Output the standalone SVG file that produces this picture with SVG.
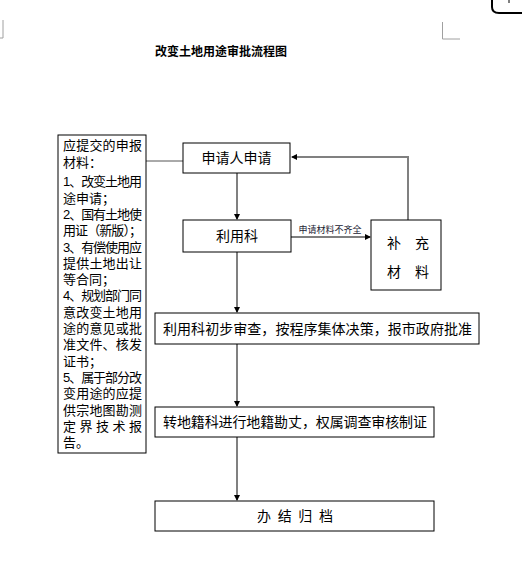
<svg xmlns="http://www.w3.org/2000/svg" width="522" height="585" viewBox="0 0 522 585">
<style>
.box{fill:#fff;stroke:#000;stroke-width:1}
.t{font-family:"Noto Sans CJK SC","Noto Sans",sans-serif;font-size:14px;fill:#000}
.s{font-family:"Liberation Sans","Noto Sans CJK SC",sans-serif;font-size:13px;fill:#000}
.c{stroke:#808080;stroke-width:2;fill:none}
.mark{stroke:#a0a0a0;stroke-width:1;fill:none}
</style>
<defs>
<marker id="ah" markerWidth="6" markerHeight="6" refX="5" refY="3" orient="auto" markerUnits="userSpaceOnUse">
<path d="M0,0 L6,3 L0,6 Z" fill="#000"/>
</marker>
</defs>
<rect width="522" height="585" fill="#fff"/>
<path d="M492,0 L492,7 Q492,13 499,13 L522,13" fill="none" stroke="#000" stroke-width="2"/>
<line x1="509" y1="0" x2="509" y2="3" stroke="#000" stroke-width="1"/>
<path class="mark" d="M3,20 L3,38 L0,38"/>
<path class="mark" d="M442.5,22 L442.5,39 L460,39"/>
<text x="221" y="56" text-anchor="middle" font-family="'Noto Sans CJK SC',sans-serif" font-size="12" font-weight="bold">改变土地用途审批流程图</text>
<g id="connectors">
<line x1="146" y1="161" x2="183" y2="161" stroke="#555" stroke-width="1"/>
<line class="c" x1="237" y1="173" x2="237" y2="219" marker-end="url(#ah)"/>
<line class="c" x1="291" y1="237" x2="370" y2="237" marker-end="url(#ah)" style="stroke:#555;stroke-width:1.5"/>
<text x="330" y="233" text-anchor="middle" font-family="'Noto Sans CJK SC',sans-serif" font-size="9" fill="#223">申请材料不齐全</text>
<polyline class="c" points="408,220 408,157 292,157" marker-end="url(#ah)"/>
<line class="c" x1="237" y1="252" x2="237" y2="312" marker-end="url(#ah)"/>
<line class="c" x1="237" y1="344" x2="237" y2="406" marker-end="url(#ah)"/>
<line class="c" x1="237" y1="437" x2="237" y2="500" marker-end="url(#ah)"/>
</g>
<g id="materials">
<rect class="box" x="58" y="135" width="88" height="318"/>
<text class="s">
<tspan x="63" y="149.5" textLength="79" lengthAdjust="spacing">应提交的申报</tspan>
<tspan x="63" y="166.5">材料：</tspan>
<tspan x="63" y="186.3" textLength="79" lengthAdjust="spacing">1、改变土地用</tspan>
<tspan x="63" y="202.6">途申请；</tspan>
<tspan x="63" y="218.9" textLength="79" lengthAdjust="spacing">2、国有土地使</tspan>
<tspan x="63" y="235.2" textLength="79" lengthAdjust="spacing">用证（新版）；</tspan>
<tspan x="63" y="251.5" textLength="79" lengthAdjust="spacing">3、有偿使用应</tspan>
<tspan x="63" y="267.8" textLength="79" lengthAdjust="spacing">提供土地出让</tspan>
<tspan x="63" y="284.1">等合同；</tspan>
<tspan x="63" y="300.4" textLength="79" lengthAdjust="spacing">4、规划部门同</tspan>
<tspan x="63" y="316.7" textLength="79" lengthAdjust="spacing">意改变土地用</tspan>
<tspan x="63" y="333" textLength="79" lengthAdjust="spacing">途的意见或批</tspan>
<tspan x="63" y="349.3" textLength="79" lengthAdjust="spacing">准文件、核发</tspan>
<tspan x="63" y="365.6">证书；</tspan>
<tspan x="63" y="381.9" textLength="79" lengthAdjust="spacing">5、属于部分改</tspan>
<tspan x="63" y="398.2" textLength="79" lengthAdjust="spacing">变用途的应提</tspan>
<tspan x="63" y="414.5" textLength="79" lengthAdjust="spacing">供宗地图勘测</tspan>
<tspan x="63" y="430.8" textLength="79" lengthAdjust="spacing">定界技术报</tspan>
<tspan x="63" y="447.1">告。</tspan>
</text>
</g>
<g id="apply">
<rect class="box" x="183" y="143" width="107" height="30"/>
<text class="t" x="236.5" y="163" text-anchor="middle">申请人申请</text>
</g>
<g id="liyongke">
<rect class="box" x="183" y="220" width="108" height="32"/>
<text class="t" x="237" y="241" text-anchor="middle">利用科</text>
</g>
<g id="buchong">
<rect class="box" x="371" y="220" width="70" height="70"/>
<text class="t" x="394" y="248" text-anchor="middle">补</text>
<text class="t" x="422" y="248" text-anchor="middle">充</text>
<text class="t" x="394" y="277" text-anchor="middle">材</text>
<text class="t" x="422" y="277" text-anchor="middle">料</text>
</g>
<g id="review">
<rect class="box" x="155" y="313" width="324" height="31"/>
<text class="t" x="317.5" y="334" text-anchor="middle" textLength="309" lengthAdjust="spacing">利用科初步审查，按程序集体决策，报市政府批准</text>
</g>
<g id="survey">
<rect class="box" x="155" y="407" width="279" height="30"/>
<text class="t" x="295" y="427" text-anchor="middle" textLength="264" lengthAdjust="spacing">转地籍科进行地籍勘丈，权属调查审核制证</text>
</g>
<g id="archive">
<rect class="box" x="155" y="501" width="279" height="30"/>
<text class="t" x="295" y="521" text-anchor="middle" textLength="76" lengthAdjust="spacing">办结归档</text>
</g>
</svg>
